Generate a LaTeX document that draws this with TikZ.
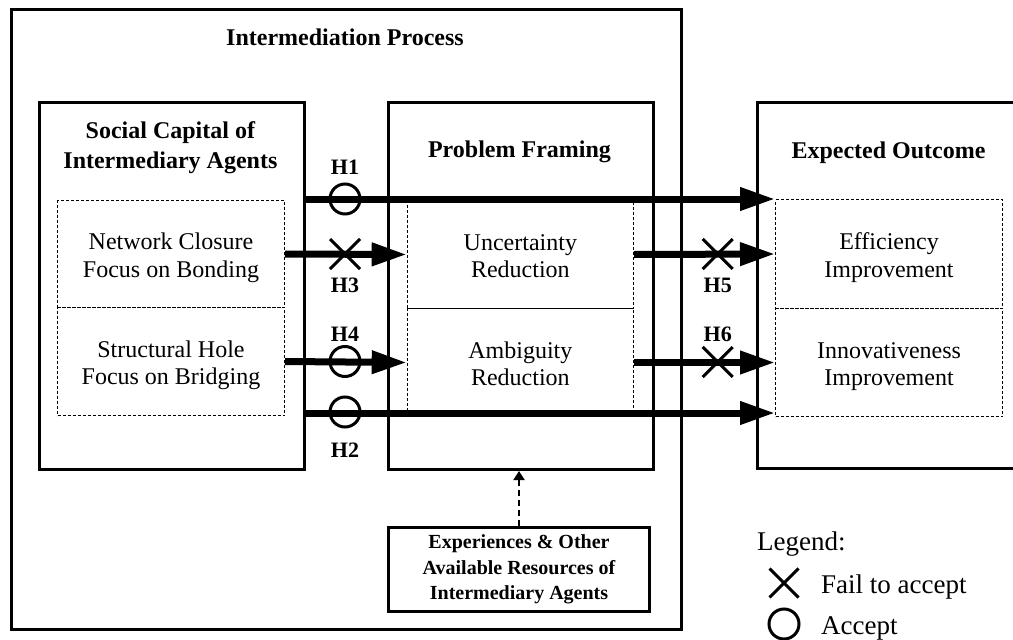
\documentclass[tikz,border=0pt]{standalone}
\usepackage{fontspec}
\setmainfont{Liberation Serif}
\usetikzlibrary{arrows.meta,shapes.misc,calc}

\begin{document}
\begin{tikzpicture}[x=1pt,y=-1pt,
  frame/.style={draw, line width=3pt, anchor=north west, inner sep=0pt},
  subbox/.style={draw, line width=1pt, dash pattern=on 3pt off 2pt, anchor=north west, inner sep=0pt},
  head/.style={font=\fontsize{24}{30}\selectfont\bfseries, align=center, inner sep=0pt},
  body/.style={font=\fontsize{24}{27.4}\selectfont, align=center, inner sep=0pt},
  small/.style={font=\fontsize{20}{25.3}\selectfont\bfseries, align=center},
  hlabel/.style={font=\fontsize{22}{26}\selectfont\bfseries, inner sep=0pt},
  legtext/.style={font=\fontsize{27}{30}\selectfont, inner sep=0pt},
  hyp/.style={line width=7pt, -{Triangle[length=35pt,width=22pt]}},
  accept/.style={circle, draw, line width=3pt, minimum size=30pt, inner sep=0pt},
  reject/.style={cross out, draw, line width=3pt, minimum size=27pt, inner sep=0pt},
  feed/.style={line width=2pt, dash pattern=on 6pt off 4pt, -{Triangle[length=9pt,width=11pt]}},
]
\useasboundingbox (0,0) rectangle (1013,640);
\clip (0,0) rectangle (1013,640);

% outer process frame
\node[frame, minimum width=670.5pt, minimum height=620.5pt] (proc) at (9.5,7.5) {};
\node[head] (procT) at (345,39) {\strut Intermediation Process\strut};

% three main blocks
\node[frame, minimum width=264.7pt, minimum height=367.3pt] (soc) at (38,100.7) {};
\node[head] (socT) at (170.4,147.3) {\strut Social Capital of\\Intermediary Agents\strut};
\node[frame, minimum width=265pt, minimum height=367pt] (prob) at (387,101) {};
\node[head] (probT) at (519.5,151.3) {\strut Problem Framing\strut};
\node[frame, minimum width=274pt, minimum height=366pt] (out) at (756,101) {};
\node[head] (outT) at (888.5,152) {\strut Expected Outcome\strut};

% dashed sub-factors
\node[subbox, minimum width=227pt, minimum height=107pt] (nc) at (57,200) {};
\node[subbox, minimum width=227pt, minimum height=108pt] (sh) at (57,307) {};
\node[body] (ncT) at ($(nc.center)+(0,4)$) {\strut Network Closure\\Focus on Bonding\strut};
\node[body] (shT) at ($(sh.center)+(0,4)$) {\strut Structural Hole\\Focus on Bridging\strut};

\node[subbox, minimum width=226.3pt, minimum height=108pt] (ur) at (406.7,200) {};
\node[subbox, minimum width=226.3pt, minimum height=108pt] (ar) at (406.7,308) {};
\node[body] (urT) at ($(ur.center)+(0,4)$) {\strut Uncertainty\\Reduction\strut};
\node[body] (arT) at ($(ar.center)+(0,4)$) {\strut Ambiguity\\Reduction\strut};

\node[subbox, minimum width=227pt, minimum height=109pt] (ei) at (775,199) {};
\node[subbox, minimum width=227pt, minimum height=108pt] (ii) at (775,308) {};
\node[body] (eiT) at ($(ei.center)+(0,4)$) {\strut Efficiency\\Improvement\strut};
\node[body] (iiT) at ($(ii.center)+(0,4)$) {\strut Innovativeness\\Improvement\strut};

% resources feeding problem framing
\node[frame, small, minimum width=261pt, minimum height=84pt] (exp) at (387,525.5)
  {\strut Experiences \& Other\\Available Resources of\\Intermediary Agents\strut};
\draw[feed] (exp.north) -- (exp.north |- prob.south);

% hypothesis arrows
\coordinate (h2end) at ($(ii.south west)+(0,-4)$);
\draw[hyp] (soc.east |- ei.north west) -- (ei.north west);
\draw[hyp] (nc.east) -- (ur.west);
\draw[hyp] (sh.east) -- (ar.west);
\draw[hyp] (ur.east) -- (ei.west);
\draw[hyp] (ar.east) -- (ii.west);
\draw[hyp] (soc.east |- h2end) -- (h2end);

% results on each hypothesis
\node[accept] (m1) at (345,199) {};
\node[reject] (m3) at (345,254) {};
\node[accept] (m4) at (345,361.5) {};
\node[accept] (m2) at (345,412) {};
\node[reject] (m5) at (717.7,254) {};
\node[reject] (m6) at (717.7,362) {};

\node[hlabel] (l1) at (345,168.8) {\strut H1};
\node[hlabel] (l3) at (345,287.5) {\strut H3};
\node[hlabel] (l4) at (345,336.5) {\strut H4};
\node[hlabel] (l2) at (345,452) {\strut H2};
\node[hlabel] (l5) at (717.7,287.5) {\strut H5};
\node[hlabel] (l6) at (717.7,336.5) {\strut H6};

% legend
\node[legtext, anchor=base west] (legT) at (757,550) {Legend:};
\node[reject, minimum size=26pt] (legX) at (784,583) {};
\node[legtext, anchor=base west] (legXT) at (821,593) {Fail to accept};
\node[accept] (legO) at (784,624) {};
\node[legtext, anchor=base west] (legOT) at (821,634) {Accept};
\end{tikzpicture}
\end{document}
